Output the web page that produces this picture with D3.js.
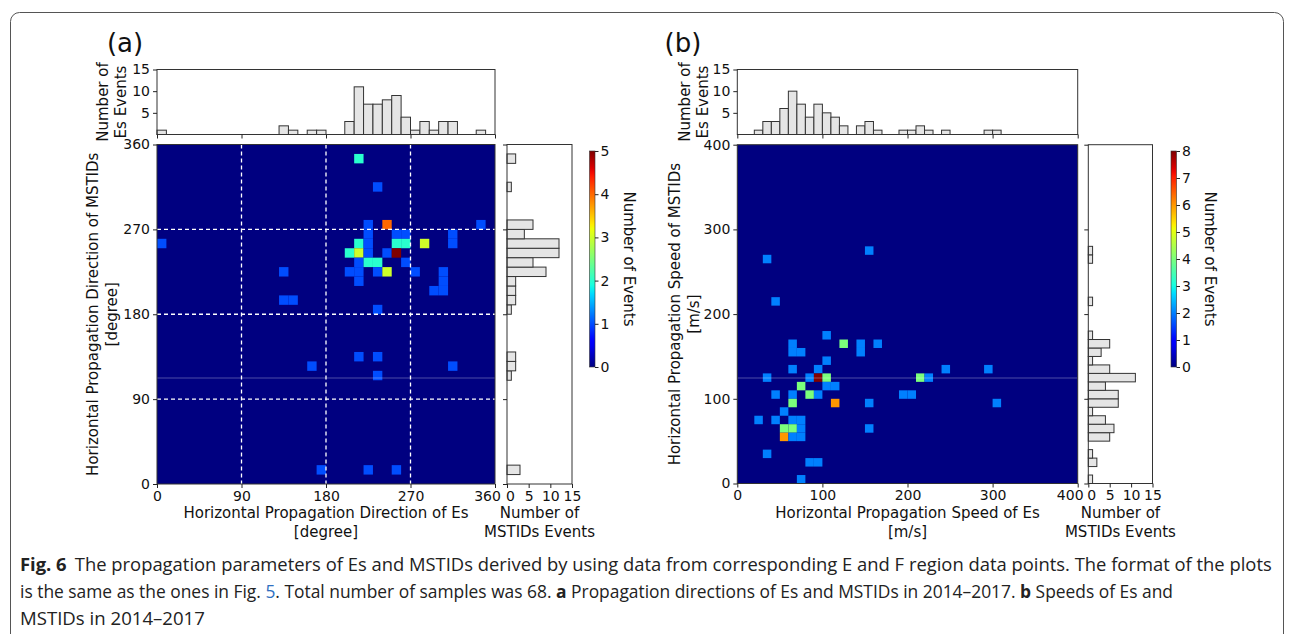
<!DOCTYPE html>
<html>
<head>
<meta charset="utf-8">
<script src="https://cdn.jsdelivr.net/npm/d3@7"></script>
<style>
  body { margin: 0; background: #fff; }
  svg { display: block; }
</style>
</head>
<body>
<div id="fig"></div>
<script>
(function() {

  'use strict'

  // ---- data ----
  var dirTicks = [0, 90, 180, 270, 360];
  var speedTicks = [0, 100, 200, 300, 400];
  var histTicks = [5, 10, 15];
  var sideTicks = [0, 5, 10, 15];
  var cbarTicksA = [0, 1, 2, 3, 4, 5];
  var cbarTicksB = [0, 1, 2, 3, 4, 5, 6, 7, 8];

  // (a) direction, 10 degree bins
  var dirEsHist = [1,0,0,0,0,0,0,0,0,0, 0,0,0,2,1,0,1,1,0,0,
                   3,11,7,7,8,9,4,1,3,1, 3,3,0,0,1,0];
  var dirMstidHist = [0,3,0,0,0,0,0,0,0,0, 0,1,2,2,0,0,0,0,1,2,
                      2,2,9,6,12,12,4,6,0,0, 0,1,0,0,2,0];
  // [Es direction bin, MSTID direction bin, events]
  var dirCells = [
    [210,340,2], [230,310,1],
    [220,270,1], [240,270,4], [340,270,1],
    [220,260,1], [250,260,1], [260,260,1], [310,260,1],
    [0,250,1], [210,250,2], [220,250,1], [250,250,2], [260,250,2], [280,250,3], [310,250,1],
    [200,240,2], [210,240,3], [220,240,1], [240,240,1], [250,240,5],
    [210,230,1], [220,230,2], [230,230,2], [260,230,1],
    [130,220,1], [200,220,1], [210,220,1], [230,220,1], [240,220,3], [270,220,1], [300,220,1],
    [210,210,1], [300,210,1],
    [290,200,1], [300,200,1],
    [130,190,1], [140,190,1],
    [230,180,1],
    [210,130,1], [230,130,1],
    [160,120,1], [310,120,1],
    [230,110,1],
    [170,10,1], [220,10,1], [250,10,1]
  ];

  // (b) speed, 10 m/s bins
  var speedEsHist = [0,0,1,3,3,6,10,7,4,7, 5,4,2,0,2,3,1,0,0,1,
                     1,2,1,0,1,0,0,0,0,1, 1,0,0,0,0,0,0,0,0,0];
  var speedMstidHist = [1,0,2,1,0,5,6,4,1,7, 7,4,11,5,1,3,5,1,0,0,
                        0,1,0,0,0,0,1,1,0,0, 0,0,0,0,0,0,0,0,0,0];
  // [Es speed bin, MSTID speed bin, colour value]
  var speedCells = [
    [150,270,2], [30,260,2], [40,210,2], [100,170,2],
    [60,160,2], [120,160,4], [140,160,2], [160,160,2],
    [60,150,2], [70,150,2], [140,150,2],
    [100,140,2],
    [60,130,2], [90,130,2], [240,130,2], [290,130,2],
    [30,120,2], [80,120,2], [90,120,8], [100,120,4], [210,120,4], [220,120,2],
    [70,110,4], [100,110,2], [110,110,2],
    [40,100,2], [60,100,2], [80,100,4], [90,100,2], [190,100,2], [200,100,2],
    [60,90,4], [110,90,6], [150,90,2], [300,90,2],
    [50,80,2],
    [20,70,2], [40,70,2], [60,70,2], [70,70,2],
    [50,60,4], [60,60,4], [70,60,2], [150,60,2],
    [50,50,6], [60,50,2], [70,50,2],
    [30,30,2], [80,20,2], [90,20,2], [70,0,2]
  ];

  // ---- matplotlib jet ----
  var jetR = d3.scaleLinear().domain([0, 0.35, 0.66, 0.89, 1]).range([0, 0, 1, 1, 0.5]).clamp(true);
  var jetG = d3.scaleLinear().domain([0, 0.125, 0.375, 0.64, 0.91, 1]).range([0, 0, 1, 1, 0, 0]).clamp(true);
  var jetB = d3.scaleLinear().domain([0, 0.11, 0.34, 0.65, 1]).range([0.5, 1, 1, 0, 0]).clamp(true);
  function jet(t) {
    return d3.rgb(jetR(t) * 255, jetG(t) * 255, jetB(t) * 255).formatHex();
  }

  var font = '"DejaVu Sans", sans-serif';
  var tickSize = 14;
  var W = 1293, H = 634;

  var svg = d3.select('#fig').append('svg')
    .attr('width', W)
    .attr('height', H);

  // figure frame
  svg.append('rect')
    .attr('x', 10.5).attr('y', 12.5)
    .attr('width', 1273).attr('height', 700)
    .attr('rx', 9)
    .attr('fill', 'none')
    .attr('stroke', '#555')
    .attr('stroke-width', 1);

  var Panel = function(cfg) {
    this.cfg = cfg;
    this.g = svg.append('g');
    this.x = d3.scaleLinear().domain([0, cfg.max]).range([cfg.left, cfg.right]);
    this.y = d3.scaleLinear().domain([0, cfg.max]).range([cfg.bottom, cfg.top]);
    this.hy = d3.scaleLinear().domain([0, 15]).range([cfg.histBottom, cfg.histTop]);
    this.hx = d3.scaleLinear().domain([0, 15]).range([cfg.sideLeft, cfg.sideRight]);
    this.color = d3.scaleLinear().domain([0, cfg.vmax]).range([0, 1]);
  };

  Panel.prototype.styleAxis = function(sel, showLabels) {
    sel.select('.domain').remove();
    sel.selectAll('.tick line').attr('stroke', '#222').attr('stroke-width', 1);
    sel.selectAll('.tick text')
      .attr('font-family', font)
      .attr('font-size', tickSize + 'px')
      .attr('fill', '#111');
    if (!showLabels) sel.selectAll('.tick text').remove();
    return sel;
  };

  Panel.prototype.heatmap = function() {
    var c = this.cfg, x = this.x, y = this.y, col = this.color;
    var fmt = d3.format('d');
    this.g.append('rect')
      .attr('x', c.left).attr('y', c.top)
      .attr('width', c.right - c.left).attr('height', c.bottom - c.top)
      .attr('fill', jet(0));

    this.g.append('g').selectAll('rect')
      .data(c.cells)
      .enter().append('rect')
      .attr('x', function(d) { return x(d[0]); })
      .attr('y', function(d) { return y(d[1] + c.bin); })
      .attr('width', function(d) { return x(d[0] + c.bin) - x(d[0]); })
      .attr('height', function(d) { return y(d[1]) - y(d[1] + c.bin); })
      .attr('fill', function(d) { return jet(col(d[2])); });

    if (c.grid) {
      var inner = c.ticks.slice(1, -1);
      this.g.append('g').selectAll('line.v').data(inner).enter().append('line')
        .attr('x1', x).attr('x2', x)
        .attr('y1', c.top).attr('y2', c.bottom)
        .attr('stroke', '#fff').attr('stroke-width', 1.3).attr('stroke-dasharray', '4,3');
      this.g.append('g').selectAll('line.h').data(inner).enter().append('line')
        .attr('y1', y).attr('y2', y)
        .attr('x1', c.left).attr('x2', c.right)
        .attr('stroke', '#fff').attr('stroke-width', 1.3).attr('stroke-dasharray', '4,3');
    }

    // faint scan line seen across the original image
    this.g.append('line')
      .attr('x1', c.left).attr('x2', c.right)
      .attr('y1', c.scanY).attr('y2', c.scanY)
      .attr('stroke', '#fff').attr('stroke-opacity', 0.3).attr('stroke-width', 1);

    this.frame(c.left, c.top, c.right, c.bottom);

    this.styleAxis(this.g.append('g')
      .attr('transform', 'translate(' + c.left + ',0)')
      .call(d3.axisLeft(y).tickValues(c.ticks).tickFormat(fmt).tickSize(4).tickPadding(3)), true);
    var xa = this.styleAxis(this.g.append('g')
      .attr('transform', 'translate(0,' + c.bottom + ')')
      .call(d3.axisBottom(x).tickValues(c.ticks).tickFormat(fmt).tickSize(4).tickPadding(3)), true);
    // last label sits just left of the side histogram's "0", as in the original
    xa.selectAll('.tick text')
      .filter(function(d) { return d === c.max; })
      .attr('dx', -8);
    return this;
  };

  Panel.prototype.frame = function(x0, y0, x1, y1) {
    this.g.append('rect')
      .attr('x', x0).attr('y', y0)
      .attr('width', x1 - x0).attr('height', y1 - y0)
      .attr('fill', 'none')
      .attr('stroke', '#333')
      .attr('stroke-width', 1);
  };

  Panel.prototype.topHist = function() {
    var c = this.cfg, x = this.x, hy = this.hy;
    var bars = c.topHist.map(function(v, i) { return { lo: i * c.bin, v: v }; })
      .filter(function(d) { return d.v > 0; });
    this.g.append('g').selectAll('rect')
      .data(bars)
      .enter().append('rect')
      .attr('x', function(d) { return x(d.lo); })
      .attr('y', function(d) { return hy(d.v); })
      .attr('width', function(d) { return x(d.lo + c.bin) - x(d.lo); })
      .attr('height', function(d) { return hy(0) - hy(d.v); })
      .attr('fill', '#e5e5e5')
      .attr('stroke', '#333')
      .attr('stroke-width', 1);
    this.frame(c.left, c.histTop, c.right, c.histBottom);
    this.styleAxis(this.g.append('g')
      .attr('transform', 'translate(' + c.left + ',0)')
      .call(d3.axisLeft(hy).tickValues(histTicks).tickFormat(d3.format('d')).tickSize(4).tickPadding(3)), true);
    this.styleAxis(this.g.append('g')
      .attr('transform', 'translate(0,' + c.histBottom + ')')
      .call(d3.axisBottom(x).tickValues(c.ticks).tickSize(4)), false);
    return this;
  };

  Panel.prototype.sideHist = function() {
    var c = this.cfg, y = this.y, hx = this.hx;
    var bars = c.sideHist.map(function(v, i) { return { lo: i * c.bin, v: v }; })
      .filter(function(d) { return d.v > 0; });
    this.g.append('g').selectAll('rect')
      .data(bars)
      .enter().append('rect')
      .attr('x', hx(0))
      .attr('y', function(d) { return y(d.lo + c.bin); })
      .attr('width', function(d) { return hx(d.v) - hx(0); })
      .attr('height', function(d) { return y(d.lo) - y(d.lo + c.bin); })
      .attr('fill', '#e5e5e5')
      .attr('stroke', '#333')
      .attr('stroke-width', 1);
    this.frame(c.sideLeft, c.top, c.sideRight, c.bottom);
    var xa = this.styleAxis(this.g.append('g')
      .attr('transform', 'translate(0,' + c.bottom + ')')
      .call(d3.axisBottom(hx).tickValues(sideTicks).tickFormat(d3.format('d')).tickSize(4).tickPadding(3)), true);
    xa.selectAll('.tick text')
      .filter(function(d) { return d === 0; })
      .attr('dx', 3);
    this.styleAxis(this.g.append('g')
      .attr('transform', 'translate(' + c.sideLeft + ',0)')
      .call(d3.axisLeft(y).tickValues(c.ticks).tickSize(4)), false);
    return this;
  };

  Panel.prototype.colorbar = function() {
    var c = this.cfg;
    var id = 'grad' + c.name;
    var grad = svg.append('defs').append('linearGradient')
      .attr('id', id)
      .attr('x1', 0).attr('y1', 1).attr('x2', 0).attr('y2', 0);
    grad.selectAll('stop')
      .data(d3.range(0, 1.0001, 0.02))
      .enter().append('stop')
      .attr('offset', function(t) { return t; })
      .attr('stop-color', function(t) { return jet(t); });

    var cy = d3.scaleLinear().domain([0, c.vmax]).range([c.cbBottom, c.cbTop]);
    this.g.append('rect')
      .attr('x', c.cbLeft).attr('y', c.cbTop)
      .attr('width', c.cbWidth).attr('height', c.cbBottom - c.cbTop)
      .attr('fill', 'url(#' + id + ')')
      .attr('stroke', '#333').attr('stroke-width', 0.6);
    this.styleAxis(this.g.append('g')
      .attr('transform', 'translate(' + (c.cbLeft + c.cbWidth) + ',0)')
      .call(d3.axisRight(cy).tickValues(c.cbTicks).tickFormat(d3.format('d')).tickSize(3.5).tickPadding(2)), true);

    this.text('Number of Events', c.cbLabelX, (c.cbTop + c.cbBottom) / 2, 90, 15);
    return this;
  };

  Panel.prototype.text = function(str, x, y, rot, size) {
    this.g.append('text')
      .attr('transform', 'translate(' + x + ',' + y + ')' + (rot ? ' rotate(' + rot + ')' : ''))
      .attr('text-anchor', 'middle')
      .attr('font-family', font)
      .attr('font-size', size + 'px')
      .attr('fill', '#111')
      .text(str);
    return this;
  };

  Panel.prototype.labels = function() {
    var c = this.cfg;
    var midX = (c.left + c.right) / 2, midY = (c.top + c.bottom) / 2;
    var histMid = (c.histTop + c.histBottom) / 2;
    var sideMid = (c.sideLeft + c.sideRight) / 2;
    this.text(c.tag, c.tagX, 52, 0, 26);
    this.text('Number of', c.histLabelX, histMid, -90, 15);
    this.text('Es Events', c.histLabelX + 18, histMid, -90, 15);
    this.text(c.yTitle, c.yLabelX, midY, -90, 15);
    this.text(c.unit, c.yLabelX + 19, midY, -90, 15);
    this.text(c.xTitle, midX, 518, 0, 15);
    this.text(c.unit, midX, 537, 0, 15);
    this.text('Number of', sideMid, 518, 0, 15);
    this.text('MSTIDs Events', sideMid, 537, 0, 15);
    return this;
  };

  Panel.prototype.draw = function() {
    this.heatmap().topHist().sideHist().colorbar().labels();
  };

  new Panel({
    name: 'a', tag: '(a)', tagX: 125,
    max: 360, bin: 10, ticks: dirTicks, grid: true,
    cells: dirCells, topHist: dirEsHist, sideHist: dirMstidHist,
    vmax: 5, cbTicks: cbarTicksA,
    left: 157, right: 495, top: 144.5, bottom: 484,
    histTop: 69.5, histBottom: 134.5,
    sideLeft: 507, sideRight: 572,
    cbLeft: 589.5, cbWidth: 5.5, cbTop: 151, cbBottom: 367, cbLabelX: 624,
    histLabelX: 108, yLabelX: 98, scanY: 378,
    xTitle: 'Horizontal Propagation Direction of Es',
    yTitle: 'Horizontal Propagation Direction of MSTIDs',
    unit: '[degree]'
  }).draw();

  new Panel({
    name: 'b', tag: '(b)', tagX: 683,
    max: 400, bin: 10, ticks: speedTicks, grid: false,
    cells: speedCells, topHist: speedEsHist, sideHist: speedMstidHist,
    vmax: 8, cbTicks: cbarTicksB,
    left: 737.3, right: 1077.7, top: 144.7, bottom: 483.5,
    histTop: 69.5, histBottom: 134.5,
    sideLeft: 1088.3, sideRight: 1152.5,
    cbLeft: 1171, cbWidth: 5.5, cbTop: 151, cbBottom: 367, cbLabelX: 1205,
    histLabelX: 690, yLabelX: 680, scanY: 378,
    xTitle: 'Horizontal Propagation Speed of Es',
    yTitle: 'Horizontal Propagation Speed of MSTIDs',
    unit: '[m/s]'
  }).draw();

  // ---- caption: condensed by a horizontal scale so each line ends where the original does ----
  var capFont = '"Open Sans", sans-serif';
  var cap = svg.append('g')
    .attr('font-family', capFont)
    .attr('font-size', '18px')
    .attr('fill', '#222');

  function fitLine(textSel, y, width) {
    var w = textSel.node().getBBox().width;
    textSel.attr('transform', 'translate(20,' + y + ') scale(' + (width / w) + ',1)');
  }

  var l1 = cap.append('text');
  l1.append('tspan').attr('font-weight', 'bold').text('Fig. 6');
  l1.append('tspan').attr('dx', 8).text('The propagation parameters of Es and MSTIDs derived by using data from corresponding E and F region data points. The format of the plots');
  fitLine(l1, 571, 1253);

  var l2 = cap.append('text');
  l2.append('tspan').text('is the same as the ones in Fig. ');
  l2.append('tspan').attr('fill', '#2f6fc0').text('5');
  l2.append('tspan').text('. Total number of samples was 68. ');
  l2.append('tspan').attr('font-weight', 'bold').text('a');
  l2.append('tspan').text(' Propagation directions of Es and MSTIDs in 2014\u20132017. ');
  l2.append('tspan').attr('font-weight', 'bold').text('b');
  l2.append('tspan').text(' Speeds of Es and');
  fitLine(l2, 598, 1154);

  var l3 = cap.append('text').text('MSTIDs in 2014\u20132017');
  fitLine(l3, 625, 185);

})();
</script>
</body>
</html>
